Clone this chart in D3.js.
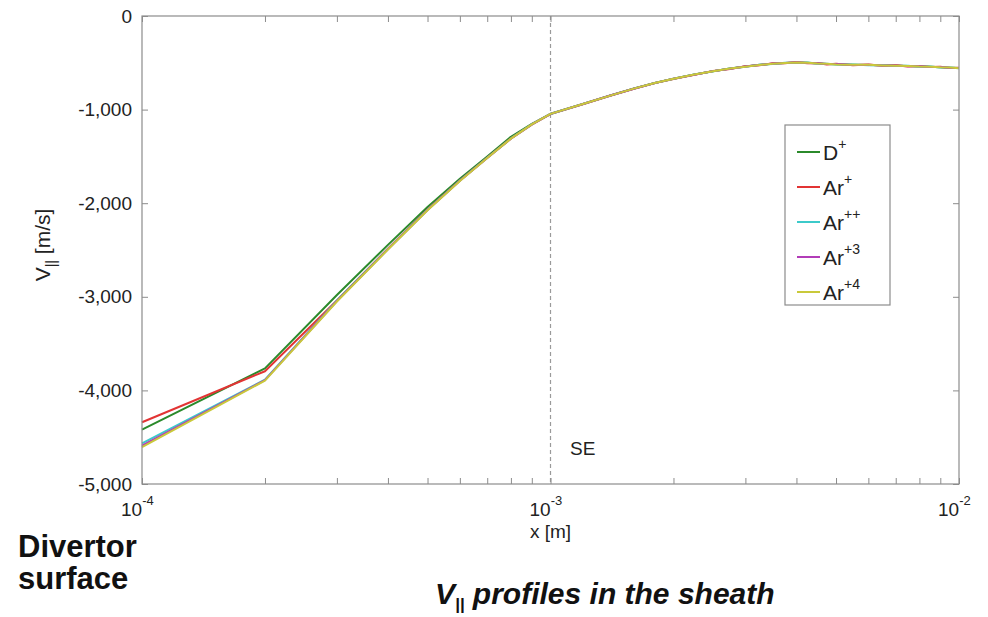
<!DOCTYPE html>
<html>
<head>
<meta charset="utf-8">
<script src="https://cdn.jsdelivr.net/npm/d3@7"></script>
<style>
  html, body { margin: 0; padding: 0; background: #fff; }
  svg { display: block; font-family: "Liberation Sans", Arial, sans-serif; }
</style>
</head>
<body>
<svg id="chart" width="988" height="617"></svg>
<script>
// ---------- data ----------
const xValues = [1e-4, 2e-4, 3e-4, 4e-4, 5e-4, 6e-4, 7e-4, 8e-4, 9e-4, 1e-3,
  1.2e-3, 1.4e-3, 1.6e-3, 1.8e-3, 2e-3, 2.25e-3, 2.5e-3, 2.75e-3, 3e-3, 3.25e-3,
  3.5e-3, 3.75e-3, 4e-3, 4.25e-3, 4.5e-3, 4.75e-3, 5e-3, 5.5e-3, 6e-3, 6.5e-3,
  7e-3, 7.5e-3, 8e-3, 8.5e-3, 9e-3, 9.5e-3, 1e-2];

const seriesNames = ["D", "Ar", "Ar", "Ar", "Ar"];
const seriesSups = ["+", "+", "++", "+3", "+4"];
const seriesColors = ["#2b8a2b", "#e23434", "#3ccaca", "#b23cb8", "#c9c93a"];

const vD1 = [-4420, -3765, -2980, -2445, -2040, -1740, -1500, -1290, -1152, -1045,
  -940, -850, -775, -715, -670, -625, -590, -562, -540, -522,
  -510, -502, -496, -500, -506, -512, -516, -520, -523, -527,
  -530, -534, -538, -542, -547, -552, -556];
const vAr1 = [-4340, -3795, -3040, -2485, -2068, -1758, -1515, -1310, -1160, -1048,
  -942, -852, -778, -716, -672, -628, -588, -566, -538, -526,
  -506, -505, -492, -504, -502, -518, -511, -526, -518, -532,
  -526, -540, -533, -546, -543, -556, -552];
const vAr2 = [-4565, -3885, -3040, -2488, -2070, -1757, -1514, -1308, -1158, -1047,
  -941, -851, -776, -715, -671, -626, -591, -560, -542, -520,
  -512, -500, -499, -497, -509, -509, -519, -518, -526, -524,
  -533, -531, -541, -539, -550, -549, -558];
const vAr3 = [-4590, -3890, -3045, -2492, -2072, -1760, -1516, -1309, -1159, -1046,
  -940, -850, -777, -717, -669, -627, -589, -563, -539, -524,
  -508, -503, -495, -502, -504, -514, -513, -523, -520, -529,
  -528, -537, -536, -544, -545, -554, -555];
const vAr4 = [-4605, -3895, -3050, -2495, -2075, -1762, -1517, -1310, -1158, -1046,
  -941, -851, -776, -716, -670, -626, -590, -561, -541, -523,
  -509, -501, -497, -499, -507, -511, -517, -521, -522, -528,
  -531, -533, -539, -541, -548, -551, -557];
const seriesValues = [vD1, vAr1, vAr2, vAr3, vAr4];

const yTickValues = [0, -1000, -2000, -3000, -4000, -5000];
const xMajorTicks = [1e-4, 1e-3, 1e-2];
const xTickExponents = ["-4", "-3", "-2"];
const seMarker = 1e-3;

// ---------- layout ----------
const svg = d3.select("#chart");
const pLeft = 142, pRight = 959, pTop = 16, pBottom = 484;
const axisColor = "#8c8c8c";

const x = d3.scaleLog().domain([1e-4, 1e-2]).range([pLeft, pRight]);
const y = d3.scaleLinear().domain([-5000, 0]).range([pBottom, pTop]);

const loc = d3.formatLocale({decimal: ".", thousands: ",", grouping: [3], currency: ["$", ""], minus: "-"});
const fmt = loc.format(",");

// minor ticks for log axis
const xAllTicks = [];
xMajorTicks.forEach((d, i) => {
  if (i < xMajorTicks.length - 1) { for (let k = 1; k <= 9; k++) xAllTicks.push(d * k); }
  else xAllTicks.push(d);
});

// SE dashed line
svg.append("line")
  .attr("x1", x(seMarker)).attr("x2", x(seMarker))
  .attr("y1", pTop).attr("y2", pBottom)
  .attr("stroke", "#9a9a9a").attr("stroke-width", 1.2)
  .attr("stroke-dasharray", "4,3");

// series lines
const line = d3.line().x((d, i) => x(xValues[i])).y(d => y(d));
seriesValues.forEach((vals, s) => {
  svg.append("path")
    .datum(vals)
    .attr("d", line)
    .attr("fill", "none")
    .attr("stroke", seriesColors[s])
    .attr("stroke-width", 2)
    .attr("stroke-linejoin", "round");
});

// axes
function styleAxis(g) {
  g.select(".domain").remove();
  g.selectAll(".tick line").attr("stroke", axisColor);
  g.selectAll(".tick text").attr("fill", "#222").attr("font-size", "19px")
    .attr("font-family", "Liberation Sans, Arial, sans-serif");
}
svg.append("g").attr("transform", `translate(${pLeft},0)`)
  .call(d3.axisLeft(y).tickValues(yTickValues).tickFormat(fmt).tickSize(-6).tickPadding(10))
  .call(styleAxis);
svg.append("g").attr("transform", `translate(${pRight},0)`)
  .call(d3.axisRight(y).tickValues(yTickValues).tickFormat("").tickSize(-6))
  .call(styleAxis);
svg.append("g").attr("transform", `translate(0,${pBottom})`)
  .call(d3.axisBottom(x).tickValues(xAllTicks).tickFormat("").tickSize(-6))
  .call(styleAxis);
svg.append("g").attr("transform", `translate(0,${pTop})`)
  .call(d3.axisTop(x).tickValues(xAllTicks).tickFormat("").tickSize(-6))
  .call(styleAxis);

// box
svg.append("rect").attr("x", pLeft).attr("y", pTop)
  .attr("width", pRight - pLeft).attr("height", pBottom - pTop)
  .attr("fill", "none").attr("stroke", axisColor).attr("stroke-width", 1.2);

// x tick labels 10^n
xMajorTicks.forEach((d, i) => {
  const t = svg.append("text").attr("x", x(d) - 21).attr("y", 516)
    .attr("font-size", "19px").attr("fill", "#222");
  t.append("tspan").text("10");
  t.append("tspan").attr("dy", -11).attr("font-size", "13px").text(xTickExponents[i]);
});

// x label
svg.append("text").attr("x", x(seMarker)).attr("y", 538)
  .attr("text-anchor", "middle").attr("font-size", "19px").attr("fill", "#222")
  .text("x [m]");

// y label
const yl = svg.append("text")
  .attr("transform", "translate(50,245) rotate(-90)")
  .attr("text-anchor", "middle").attr("font-size", "21px").attr("fill", "#222");
yl.append("tspan").text("V");
yl.append("tspan").attr("dy", 6).attr("font-size", "14px").text("||");
yl.append("tspan").attr("dy", -6).text(" [m/s]");

// SE label
svg.append("text").attr("x", 570).attr("y", 455)
  .attr("font-size", "19px").attr("fill", "#222").text("SE");

// legend
const lgX = 785, lgY = 125, lgW = 105, lgH = 180;
svg.append("rect").attr("x", lgX).attr("y", lgY).attr("width", lgW).attr("height", lgH)
  .attr("fill", "#fff").attr("stroke", axisColor).attr("stroke-width", 1.2);
seriesNames.forEach((name, i) => {
  const cy = 152 + i * 35;
  svg.append("line").attr("x1", 797).attr("x2", 820).attr("y1", cy).attr("y2", cy)
    .attr("stroke", seriesColors[i]).attr("stroke-width", 2);
  const t = svg.append("text").attr("x", 823).attr("y", cy + 8)
    .attr("font-size", "21px").attr("fill", "#222");
  t.append("tspan").text(name);
  t.append("tspan").attr("dy", -11).attr("font-size", "14px").text(seriesSups[i]);
});

// bottom annotations
svg.append("text").attr("x", 18).attr("y", 557)
  .attr("font-size", "31px").attr("font-weight", "bold").attr("fill", "#111").text("Divertor");
svg.append("text").attr("x", 18).attr("y", 589)
  .attr("font-size", "31px").attr("font-weight", "bold").attr("fill", "#111").text("surface");

const tt = svg.append("text").attr("x", 435).attr("y", 604)
  .attr("font-size", "30px").attr("font-weight", "bold").attr("font-style", "italic").attr("fill", "#111");
tt.append("tspan").text("V");
tt.append("tspan").attr("dy", 6).attr("font-size", "17px").text("||");
tt.append("tspan").attr("dy", -6).text(" profiles in the sheath");
</script>
</body>
</html>
